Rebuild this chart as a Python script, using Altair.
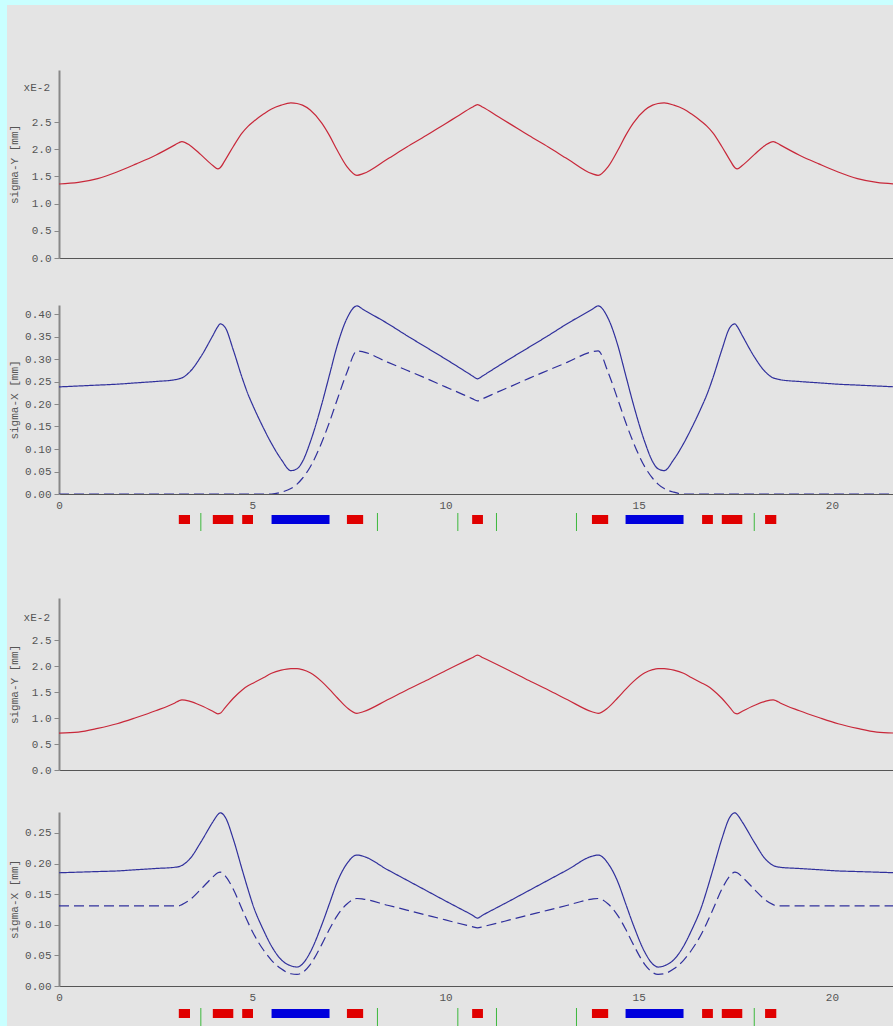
import altair as alt
import pandas as pd

# Longitudinal position along the line [m]
s_pos = [
    0.00, 0.50, 1.00, 1.50, 2.00, 2.50, 3.00, 3.10, 3.18, 3.39, 3.67, 3.98, 4.11,
    4.17, 4.30, 4.51, 4.74, 4.89, 5.02, 5.30, 5.50, 5.75, 6.00, 6.16, 6.30, 6.50,
    6.80, 7.00, 7.20, 7.45, 7.71, 7.87, 8.50, 9.00, 9.50, 10.00, 10.30, 10.69, 10.83,
    10.97, 11.36, 11.66, 12.16, 12.66, 13.16, 13.79, 13.95, 14.21, 14.46, 14.66, 14.86,
    15.16, 15.36, 15.50, 15.66, 15.91, 16.16, 16.36, 16.64, 16.77, 16.92, 17.15, 17.36,
    17.49, 17.55, 17.68, 17.99, 18.27, 18.48, 18.56, 18.66, 19.16, 19.66, 20.16, 20.66,
    21.16, 21.66,
]

# Case A: vertical beam size (units of 1e-2 mm)
sigy_a = [
    1.36, 1.39, 1.46, 1.58, 1.73, 1.89, 2.08, 2.12, 2.14, 2.07, 1.90, 1.70, 1.64,
    1.66, 1.80, 2.05, 2.30, 2.42, 2.50, 2.65, 2.74, 2.81, 2.85, 2.84, 2.81, 2.72,
    2.48, 2.25, 1.98, 1.68, 1.52, 1.55, 1.82, 2.04, 2.25, 2.47, 2.60, 2.77, 2.82,
    2.77, 2.60, 2.47, 2.25, 2.04, 1.82, 1.55, 1.52, 1.68, 1.98, 2.25, 2.48,
    2.72, 2.81, 2.84, 2.85, 2.81, 2.74, 2.65, 2.50, 2.42, 2.30, 2.05, 1.80,
    1.66, 1.64, 1.70, 1.90, 2.07, 2.14, 2.12, 2.08, 1.89, 1.73, 1.58, 1.46,
    1.39, 1.36,
]
# Case A: horizontal beam size, total and dispersive part [mm]
sigx_a = [
    0.238, 0.240, 0.242, 0.244, 0.247, 0.250, 0.254, 0.256, 0.258, 0.272, 0.305, 0.352, 0.372,
    0.378, 0.370, 0.320, 0.258, 0.222, 0.196, 0.145, 0.112, 0.077, 0.052, 0.056, 0.072, 0.115,
    0.200, 0.265, 0.330, 0.390, 0.418, 0.410, 0.379, 0.352, 0.326, 0.300, 0.284, 0.263, 0.256,
    0.263, 0.284, 0.300, 0.326, 0.352, 0.379, 0.410, 0.418, 0.390, 0.330, 0.265, 0.200,
    0.115, 0.072, 0.056, 0.052, 0.077, 0.112, 0.145, 0.196, 0.222, 0.258, 0.320, 0.370,
    0.378, 0.372, 0.352, 0.305, 0.272, 0.258, 0.256, 0.254, 0.250, 0.247, 0.244, 0.242,
    0.240, 0.238,
]
sigx_a_disp = [
    0.0, 0.0, 0.0, 0.0, 0.0, 0.0, 0.0, 0.0, 0.0, 0.0, 0.0, 0.0, 0.0,
    0.0, 0.0, 0.0, 0.0, 0.0, 0.0, 0.0, 0.0, 0.004, 0.012, 0.022, 0.035, 0.060,
    0.115, 0.160, 0.210, 0.270, 0.318, 0.316, 0.293, 0.275, 0.257, 0.238, 0.227, 0.212, 0.207,
    0.212, 0.227, 0.238, 0.257, 0.275, 0.293, 0.316, 0.318, 0.270, 0.210, 0.160, 0.115,
    0.060, 0.035, 0.022, 0.012, 0.004, 0.0, 0.0, 0.0, 0.0, 0.0, 0.0, 0.0,
    0.0, 0.0, 0.0, 0.0, 0.0, 0.0, 0.0, 0.0, 0.0, 0.0, 0.0, 0.0,
    0.0, 0.0,
]

# Case B: vertical beam size (units of 1e-2 mm)
sigy_b = [
    0.71, 0.73, 0.80, 0.89, 1.01, 1.14, 1.29, 1.33, 1.35, 1.32, 1.24, 1.13, 1.08,
    1.09, 1.20, 1.38, 1.54, 1.62, 1.67, 1.78, 1.86, 1.92, 1.95, 1.95, 1.93, 1.87,
    1.70, 1.55, 1.39, 1.20, 1.09, 1.12, 1.35, 1.54, 1.72, 1.91, 2.02, 2.16, 2.21,
    2.16, 2.02, 1.91, 1.72, 1.54, 1.35, 1.12, 1.09, 1.20, 1.39, 1.55, 1.70,
    1.87, 1.93, 1.95, 1.95, 1.92, 1.86, 1.78, 1.67, 1.62, 1.54, 1.38, 1.20,
    1.09, 1.08, 1.13, 1.24, 1.32, 1.35, 1.33, 1.29, 1.14, 1.01, 0.89, 0.80,
    0.73, 0.71,
]
# Case B: horizontal beam size, total and dispersive part [mm]
sigx_b = [
    0.185, 0.186, 0.187, 0.188, 0.190, 0.192, 0.194, 0.195, 0.197, 0.208, 0.235, 0.268, 0.280,
    0.283, 0.276, 0.240, 0.190, 0.158, 0.132, 0.090, 0.065, 0.043, 0.033, 0.031, 0.036, 0.055,
    0.100, 0.135, 0.170, 0.200, 0.214, 0.212, 0.190, 0.173, 0.156, 0.139, 0.129, 0.116, 0.111,
    0.116, 0.129, 0.139, 0.156, 0.173, 0.190, 0.212, 0.214, 0.200, 0.170, 0.135, 0.100,
    0.055, 0.036, 0.031, 0.033, 0.043, 0.065, 0.090, 0.132, 0.158, 0.190, 0.240, 0.276,
    0.283, 0.280, 0.268, 0.235, 0.208, 0.197, 0.195, 0.194, 0.192, 0.190, 0.188, 0.187,
    0.186, 0.185,
]
sigx_b_disp = [
    0.131, 0.131, 0.131, 0.131, 0.131, 0.131, 0.131, 0.131, 0.133, 0.141, 0.158, 0.178, 0.185,
    0.186, 0.180, 0.158, 0.125, 0.104, 0.087, 0.058, 0.042, 0.028, 0.020, 0.019, 0.022, 0.035,
    0.068, 0.093, 0.115, 0.134, 0.143, 0.142, 0.132, 0.124, 0.116, 0.108, 0.103, 0.097, 0.095,
    0.097, 0.103, 0.108, 0.116, 0.124, 0.132, 0.142, 0.143, 0.134, 0.115, 0.093, 0.068,
    0.035, 0.022, 0.019, 0.020, 0.028, 0.042, 0.058, 0.087, 0.104, 0.125, 0.158, 0.180,
    0.186, 0.185, 0.178, 0.158, 0.141, 0.133, 0.131, 0.131, 0.131, 0.131, 0.131, 0.131,
    0.131, 0.131,
]

# Lattice: quadrupoles (red), bends (blue), markers (green)
quad_start = [3.10, 3.98, 4.74, 7.45, 10.69, 13.79, 16.64, 17.15, 18.27]
quad_end = [3.39, 4.51, 5.02, 7.87, 10.97, 14.21, 16.92, 17.68, 18.56]
bend_start = [5.50, 14.66]
bend_end = [7.00, 16.16]
marker_pos = [3.67, 8.24, 10.32, 11.32, 13.39, 17.99]

x_ticks = [0, 5, 10, 15, 20]
sigy_ticks = [0.0, 0.5, 1.0, 1.5, 2.0, 2.5]
sigx_a_ticks = [0.0, 0.05, 0.10, 0.15, 0.20, 0.25, 0.30, 0.35, 0.40]
sigx_b_ticks = [0.0, 0.05, 0.10, 0.15, 0.20, 0.25]

W = 834
X_MAX = 21.58
FONT = "Liberation Mono"
RED = "#c8283a"
BLUE = "#30309c"
PANEL_BG = "#e4e4e4"

optics = pd.DataFrame({
    "s": s_pos,
    "sigy_a": sigy_a, "sigx_a": sigx_a, "sigx_a_disp": sigx_a_disp,
    "sigy_b": sigy_b, "sigx_b": sigx_b, "sigx_b_disp": sigx_b_disp,
})
quads = pd.DataFrame({"start": quad_start, "end": quad_end})
bends = pd.DataFrame({"start": bend_start, "end": bend_end})
markers = pd.DataFrame({"pos": marker_pos})
one_row = pd.DataFrame({"k": [0]})

x_scale = alt.Scale(domain=[0, X_MAX], nice=False, zero=False)


def x_axis(show_labels):
    return alt.Axis(values=x_ticks, labels=show_labels, ticks=False, grid=False,
                    title=None, format="d", domainColor="#555", domainWidth=1,
                    labelFont=FONT, labelFontSize=11, labelColor="#555",
                    labelPadding=5, labelFlush=False, labelOverlap=False)


def y_axis(title, ticks, fmt, height):
    return alt.Axis(values=ticks, format=fmt, title=title, grid=False,
                    titleX=-45, titleY=height / 2, titleAngle=270,
                    titleBaseline="middle", titleFont=FONT, titleFontSize=11,
                    titleFontWeight="normal", titleColor="#555",
                    labelFont=FONT, labelFontSize=11, labelColor="#555",
                    labelPadding=3, labelOverlap=False, labelFlush=False,
                    labelSeparation=0, labelBound=False,
                    tickSize=5, tickColor="#888",
                    domainColor="#888", domainWidth=2)


def panel(col, ymax, height, title, ticks, fmt, color, dash_col=None,
          show_x=False, exponent_at=None, lattice=None):
    y_sc = alt.Scale(domain=[0, ymax], nice=False, zero=True)
    x_enc = alt.X("s:Q", scale=x_scale, axis=x_axis(show_x))
    layers = []
    if dash_col is None:
        layers.append(alt.Chart(optics).mark_line(
            color=color, strokeWidth=1.2, interpolate="monotone", clip=True
        ).encode(
            x=x_enc,
            y=alt.Y(f"{col}:Q", scale=y_sc, axis=y_axis(title, ticks, fmt, height)),
        ))
    else:
        # total size solid, dispersive part dashed, one layer with one y axis
        layers.append(alt.Chart(optics).transform_fold(
            [col, dash_col], as_=["series", "value"]
        ).mark_line(
            color=color, strokeWidth=1.2, interpolate="monotone", clip=True
        ).encode(
            x=x_enc,
            y=alt.Y("value:Q", scale=y_sc, axis=y_axis(title, ticks, fmt, height)),
            strokeDash=alt.StrokeDash(
                "series:N", legend=None,
                scale=alt.Scale(domain=[col, dash_col], range=[[1, 0], [10, 5]]),
            ),
        ))
    if exponent_at is not None:
        layers.append(alt.Chart(one_row).mark_text(
            align="right", baseline="middle", font=FONT, fontSize=11, color="#555"
        ).encode(x=alt.value(-9), y=alt.value(exponent_at), text=alt.value("xE-2")))
    if lattice is not None:
        rect_top, rect_bot, line_top, line_bot = lattice
        layers.append(alt.Chart(markers).mark_rule(color="#3cb83c", strokeWidth=1).encode(
            x=alt.X("pos:Q", scale=x_scale, axis=x_axis(show_x)),
            y=alt.value(height + line_top), y2=alt.value(height + line_bot),
        ))
        layers.append(alt.Chart(quads).mark_rect(color="#e00000").encode(
            x=alt.X("start:Q", scale=x_scale, axis=x_axis(show_x)), x2="end:Q",
            y=alt.value(height + rect_top), y2=alt.value(height + rect_bot),
        ))
        layers.append(alt.Chart(bends).mark_rect(color="#0000dd").encode(
            x=alt.X("start:Q", scale=x_scale, axis=x_axis(show_x)), x2="end:Q",
            y=alt.value(height + rect_top), y2=alt.value(height + rect_bot),
        ))
    return alt.layer(*layers).properties(width=W, height=height)


def spacer(h):
    return alt.Chart(one_row).mark_point(opacity=0).encode(
        x=alt.value(0), y=alt.value(0)
    ).properties(width=W, height=h)


H1, H2, H3, H4 = 188, 189, 172, 174

# grey page panel, drawn first so that all four plots sit on top of it
page = alt.Chart(one_row).mark_rect(color=PANEL_BG).encode(
    x=alt.value(-52), x2=alt.value(W), y=alt.value(-64), y2=alt.value(957)
).properties(width=W, height=1)

p1 = panel("sigy_a", 3.456, H1, "sigma-Y [mm]", sigy_ticks, ".1f", RED, exponent_at=18)
p2 = panel("sigx_a", 0.42, H2, "sigma-X [mm]", sigx_a_ticks, ".2f", BLUE,
           dash_col="sigx_a_disp", show_x=True, lattice=(21, 30, 19, 37))
p3 = panel("sigy_b", 3.308, H3, "sigma-Y [mm]", sigy_ticks, ".1f", RED, exponent_at=20)
p4 = panel("sigx_b", 0.2843, H4, "sigma-X [mm]", sigx_b_ticks, ".2f", BLUE,
           dash_col="sigx_b_disp", show_x=True, lattice=(23, 32, 22, 40))

chart = alt.vconcat(
    page, p1, spacer(47), p2, spacer(104), p3, spacer(42), p4,
    spacing=0, bounds="flush",
).properties(
    background="#c9ffff",
    padding={"left": 7, "top": 5, "right": 0, "bottom": 0},
).configure_view(
    stroke=None
).configure_axis(
    labelOverlap=False
)

chart.save("out.html", embed_options={"renderer": "svg", "actions": False})
